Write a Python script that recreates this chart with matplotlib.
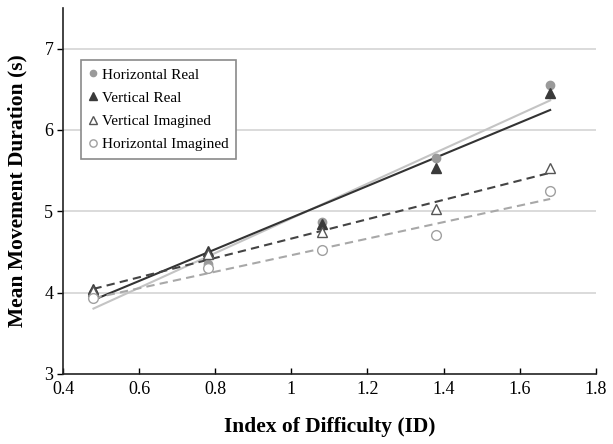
import matplotlib.pyplot as plt
import numpy as np

plt.rcParams['font.family'] = ['Liberation Serif', 'DejaVu Serif']

# index of difficulty
ids = [0.48, 0.78, 1.08, 1.38, 1.68]

# mean movement durations (s)
horiz_real = [4.00, 4.35, 4.87, 5.65, 6.55]
vert_real = [4.05, 4.51, 4.84, 5.53, 6.46]
vert_imag = [4.02, 4.48, 4.74, 5.03, 5.53]
horiz_imag = [3.93, 4.30, 4.52, 4.71, 5.25]

labels = ["Horizontal Real", "Vertical Real", "Vertical Imagined", "Horizontal Imagined"]

fig = plt.figure(figsize=(6.13, 4.44), dpi=100)
ax = fig.add_axes([0.1028, 0.1577, 0.8692, 0.8243])

x = np.array(ids)
xfit = np.array([ids[0], ids[-1]])

# linear trend lines
series = [
    (horiz_real, "#c4c4c4", "-"),
    (vert_real, "#333333", "-"),
    (vert_imag, "#444444", (0, (4, 2.5))),
    (horiz_imag, "#a8a8a8", (0, (4, 2.5))),
]
for ys, col, ls in series:
    m, b = np.polyfit(x, ys, 1)
    ax.plot(xfit, m * xfit + b, color=col, lw=1.5, linestyle=ls, zorder=2)

# markers
ax.plot(ids, horiz_real, "o", ms=6, color="#9a9a9a", mec="#9a9a9a", label=labels[0], zorder=3)
ax.plot(ids, vert_real, "^", ms=7, color="#3a3a3a", mec="#3a3a3a", label=labels[1], zorder=3)
ax.plot(ids, vert_imag, "^", ms=7, mfc="white", mec="#555555", mew=1, label=labels[2], zorder=3)
ax.plot(ids, horiz_imag, "o", ms=7, mfc="white", mec="#a0a0a0", mew=1, label=labels[3], zorder=3)

ax.set_xlim(0.4, 1.8)
ax.set_ylim(3, 7.5)
ax.set_xticks([0.4, 0.6, 0.8, 1.0, 1.2, 1.4, 1.6, 1.8])
ax.set_xticklabels(["0.4", "0.6", "0.8", "1", "1.2", "1.4", "1.6", "1.8"])
ax.set_yticks([3, 4, 5, 6, 7])
for yv in [4, 5, 6, 7]:
    ax.axhline(yv, color="#d4d4d4", lw=1.2, zorder=1)

for s in ["top", "right"]:
    ax.spines[s].set_visible(False)
for s in ["left", "bottom"]:
    ax.spines[s].set_linewidth(1.2)
    ax.spines[s].set_color("#222222")
ax.tick_params(axis="y", direction="out", length=4, width=1, labelsize=13, pad=3)
ax.tick_params(axis="x", direction="in", length=4, width=1, labelsize=13, pad=5)

ax.set_xlabel("Index of Difficulty (ID)", fontsize=15.5, fontweight="bold", labelpad=14)
ax.set_ylabel("Mean Movement Duration (s)", fontsize=15.5, fontweight="bold", labelpad=12)

leg = ax.legend(loc="upper left", bbox_to_anchor=(0.019, 0.878), fontsize=11,
                handlelength=0.6, handletextpad=0.3, labelspacing=0.62,
                borderpad=0.5, fancybox=False, framealpha=1, markerscale=0.75)
leg.get_frame().set_edgecolor("#8a8a8a")
leg.get_frame().set_linewidth(1.2)

fig.savefig("out.png", dpi=100)
